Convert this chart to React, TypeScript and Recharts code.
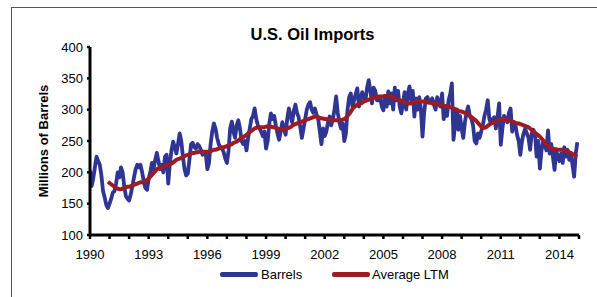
import React from 'react';
import { LineChart, Line, XAxis, YAxis, Legend } from 'recharts';

const startYear = 1990;

const barrels: number[] = [
  203, 178, 190, 208, 225, 218, 212, 195, 170, 160, 148, 143,
  150, 158, 168, 170, 182, 200, 192, 208, 200, 178, 162, 158,
  155, 165, 178, 192, 205, 212, 208, 212, 200, 185, 175, 172,
  190, 200, 215, 205, 220, 231, 218, 205, 212, 200, 225, 228,
  182, 215, 235, 249, 240, 230, 245, 262, 250, 225, 205, 195,
  198, 220, 245, 247, 240, 238, 245, 242, 236, 228, 232, 230,
  205, 215, 245, 265, 278, 270, 255, 245, 240, 238, 232, 222,
  215, 235, 270, 281, 265, 255, 275, 283, 270, 250, 245, 250,
  235, 255, 270, 285, 290, 302, 285, 275, 270, 265, 258, 265,
  238, 250, 278, 294, 285, 290, 275, 262, 252, 265, 280, 270,
  260, 285, 302, 290, 280, 298, 308, 295, 288, 272, 255, 270,
  285, 300, 308, 312, 300, 295, 302, 292, 285, 265, 245, 270,
  258, 265, 280, 289, 275, 285, 300, 321, 295, 280, 270, 278,
  250, 262, 300, 320, 326, 305, 315, 325, 334, 305, 315, 328,
  320, 315, 335, 347, 330, 310, 335, 330, 315, 315, 320, 305,
  299, 322, 305, 329, 310, 326, 300, 335, 315, 330, 305, 294,
  310, 328, 300, 325, 337, 315, 330, 289, 318, 300, 320, 300,
  257, 295, 318, 320, 312, 315, 318, 308, 300, 320, 310, 305,
  326, 285, 300, 290, 315, 325, 342, 252, 275, 300, 268, 290,
  270, 255, 280, 295, 305, 290, 285, 275, 250, 246, 262, 255,
  265, 275, 290, 300, 315, 285, 278, 285, 288, 270, 288, 310,
  244, 270, 290, 285, 280, 295, 302, 265, 280, 275, 260, 250,
  228, 250, 262, 270, 262, 255, 236, 262, 268, 262, 225, 250,
  206, 235, 250, 245, 235, 267, 230, 245, 225, 204, 235, 225,
  218, 230, 215, 240, 225, 236, 220, 228, 212, 193, 230, 248,
];

// Average LTM starts with December 1990 (month index 11)
const ltmStartIndex = 11;
const averageLtm: number[] = [
  185,
  183, 181, 179, 177, 175, 174, 173, 173, 174, 175, 176, 177,
  177, 178, 179, 180, 181, 182, 183, 184, 184, 185, 186, 188,
  190, 193, 196, 199, 202, 205, 206, 207, 208, 209, 210, 211,
  212, 213, 214, 216, 218, 220, 221, 222, 223, 224, 226, 227,
  228, 229, 230, 231, 231, 232, 232, 233, 233, 233, 233, 233,
  233, 233, 234, 235, 236, 236, 237, 238, 239, 240, 240, 241,
  242, 243, 244, 245, 247, 248, 249, 251, 253, 255, 256, 258,
  260, 262, 264, 266, 268, 270, 271, 272, 272, 272, 272, 272,
  273, 273, 273, 273, 272, 272, 271, 270, 269, 268, 268, 268,
  269, 270, 271, 272, 274, 276, 277, 278, 279, 280, 281, 282,
  283, 284, 285, 286, 287, 288, 289, 289, 288, 287, 286, 286,
  285, 285, 284, 284, 283, 283, 283, 283, 283, 283, 283, 284,
  285, 287, 290, 293, 297, 301, 304, 306, 308, 309, 310, 311,
  313, 314, 315, 316, 317, 318, 319, 320, 320, 321, 321, 321,
  321, 322, 322, 322, 321, 320, 319, 318, 317, 316, 315, 314,
  313, 312, 311, 310, 310, 310, 311, 312, 313, 314, 314, 313,
  313, 313, 312, 312, 311, 311, 310, 310, 309, 309, 308, 308,
  307, 306, 306, 305, 305, 304, 303, 302, 301, 300, 298, 297,
  297, 296, 295, 294, 292, 290, 288, 286, 284, 282, 279, 276,
  273, 271, 271, 272, 274, 276, 278, 279, 280, 281, 282, 283,
  284, 285, 285, 284, 283, 283, 282, 281, 280, 279, 278, 278,
  277, 276, 275, 274, 273, 272, 270, 268, 265, 263, 261, 259,
  257, 254, 251, 248, 245, 242, 240, 238, 238, 237, 237, 236,
  236, 236, 236, 235, 234, 233, 232, 231, 229, 228, 226, 225,
];

const yearTicks = [
  1990, 1991, 1992, 1993, 1994, 1995, 1996, 1997, 1998, 1999, 2000, 2001, 2002,
  2003, 2004, 2005, 2006, 2007, 2008, 2009, 2010, 2011, 2012, 2013, 2014, 2015,
];
const labeledYears = [1990, 1993, 1996, 1999, 2002, 2005, 2008, 2011, 2014];
const yTicks = [100, 150, 200, 250, 300, 350, 400];

const data = barrels.map((b, i) => ({
  t: startYear + i / 12,
  barrels: b,
  ltm: i >= ltmStartIndex ? averageLtm[i - ltmStartIndex] : null,
}));

const BLUE = '#2E3592';
const RED = '#9C1C22';
const FONT = 'Arial, "Liberation Sans", sans-serif';

const LegendContent = () => (
  <div style={{ position: 'relative', height: 20, fontFamily: FONT, fontSize: 13, lineHeight: '20px', color: '#000' }}>
    <div style={{ position: 'absolute', left: 220, top: 7, width: 38, height: 4.5, background: BLUE, borderRadius: 2 }} />
    <span style={{ position: 'absolute', left: 261, top: 0 }}>Barrels</span>
    <div style={{ position: 'absolute', left: 332, top: 7, width: 38, height: 4.5, background: RED, borderRadius: 2 }} />
    <span style={{ position: 'absolute', left: 372, top: 0 }}>Average LTM</span>
  </div>
);

export default function App() {
  return (
    <div style={{ position: 'absolute', left: 0, top: 0, width: 597, height: 297, overflow: 'hidden', background: '#fff' }}>
      <div style={{ position: 'absolute', left: 11, top: 7, width: 600, height: 300, border: '1px solid #555', boxSizing: 'border-box' }} />
      <div style={{ position: 'absolute', left: 112.5, top: 24, width: 400, textAlign: 'center', fontFamily: FONT, fontWeight: 'bold', fontSize: 16.5, lineHeight: '20px', color: '#000' }}>
        U.S. Oil Imports
      </div>
      <div style={{ position: 'absolute', left: 44 - 100, top: 141 - 8, width: 200, height: 16, lineHeight: '16px', textAlign: 'center', transform: 'rotate(-90deg)', fontFamily: FONT, fontWeight: 'bold', fontSize: 13, color: '#000' }}>
        Millions of Barrels
      </div>
      <div style={{ position: 'absolute', left: 0, top: 0 }}>
        <LineChart width={597} height={297} data={data} margin={{ top: 47, right: 18, bottom: 32, left: 30 }}>
          <XAxis
            type="number"
            dataKey="t"
            domain={[1990, 2015]}
            ticks={yearTicks}
            interval={0}
            tickFormatter={(v: number) => (labeledYears.includes(v) ? String(v) : '')}
            height={30}
            tickSize={4}
            tickMargin={11}
            axisLine={{ stroke: '#000', strokeWidth: 3 }}
            tickLine={{ stroke: '#000', strokeWidth: 2.5 }}
            tick={{ fill: '#000', fontSize: 13, fontFamily: FONT }}
            allowDataOverflow
          />
          <YAxis
            type="number"
            domain={[100, 400]}
            ticks={yTicks}
            interval={0}
            width={60}
            tickSize={3}
            tickMargin={4}
            axisLine={{ stroke: '#000', strokeWidth: 3 }}
            tickLine={{ stroke: '#000', strokeWidth: 2.5 }}
            tick={{ fill: '#000', fontSize: 13, fontFamily: FONT }}
          />
          <Legend
            layout="horizontal"
            verticalAlign="middle"
            align="center"
            content={<LegendContent />}
            wrapperStyle={{ top: 265, left: 0, width: 597, height: 20 }}
          />
          <Line type="linear" dataKey="barrels" name="Barrels" stroke={BLUE} strokeWidth={3.8} strokeLinejoin="round" dot={false} isAnimationActive={false} />
          <Line type="linear" dataKey="ltm" name="Average LTM" stroke={RED} strokeWidth={4} strokeLinejoin="round" dot={false} isAnimationActive={false} />
        </LineChart>
      </div>
    </div>
  );
}
